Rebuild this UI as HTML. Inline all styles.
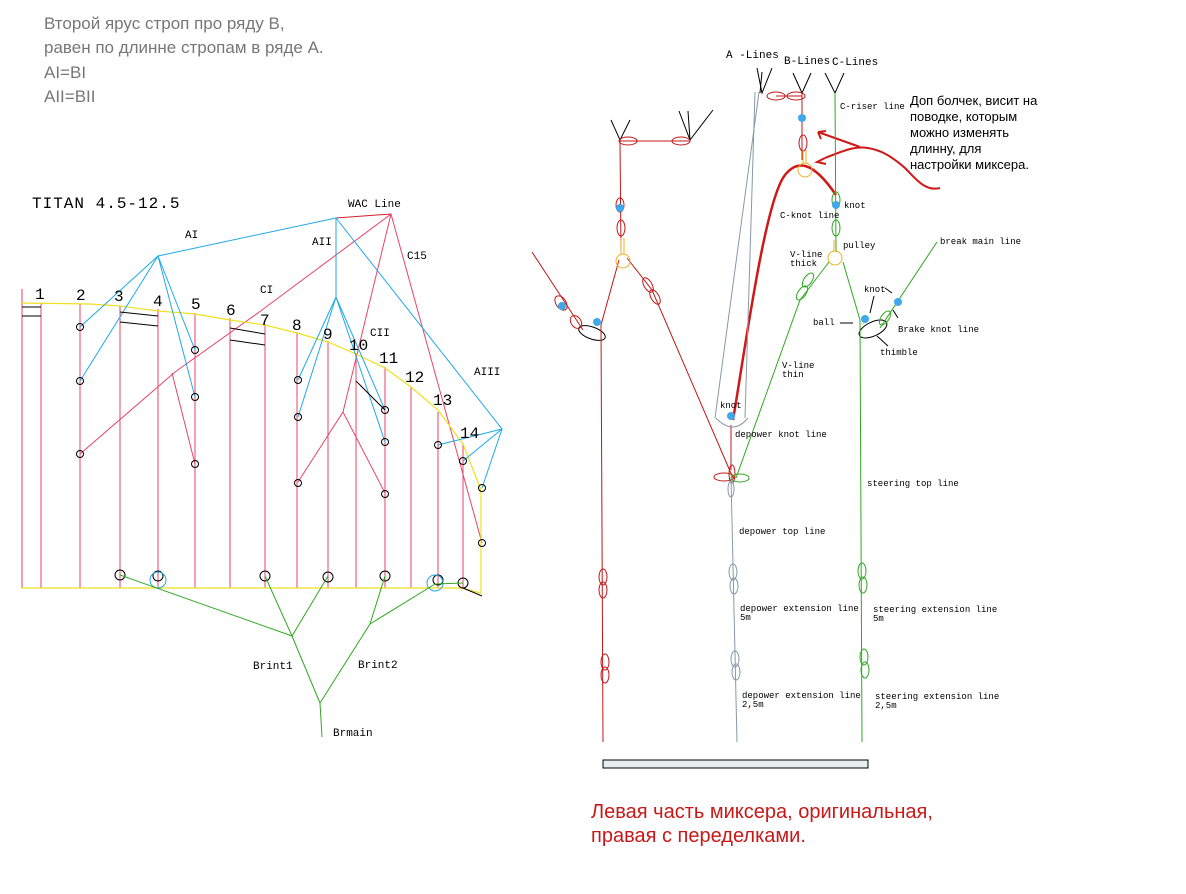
<!DOCTYPE html>
<html><head><meta charset="utf-8"><style>
html,body{margin:0;padding:0;background:#fff;width:1186px;height:894px;overflow:hidden}
svg{display:block}
.t{font-family:"Liberation Sans","Noto Sans CJK SC",sans-serif}
.m{font-family:"Liberation Mono",monospace}
</style></head><body>
<svg width="1186" height="894" viewBox="0 0 1186 894" xmlns="http://www.w3.org/2000/svg">
<g class="t" fill="#777" font-size="17">
<text x="44" y="29">Второй ярус строп про ряду В,</text>
<text x="44" y="53">равен по длинне стропам в ряде А.</text>
<text x="44" y="78">AI=BI</text>
<text x="44" y="102">AII=BII</text>
</g>
<text x="32" y="208" class="m" font-size="16" letter-spacing="1">TITAN  4.5-12.5</text>
<!-- LEFT DIAGRAM -->
<g stroke="#e8436a" stroke-width="1" fill="none">
<line x1="22" y1="289" x2="22" y2="588"/><line x1="41" y1="303" x2="41" y2="588"/>
<line x1="80" y1="304" x2="80" y2="588"/><line x1="120" y1="306" x2="120" y2="588"/>
<line x1="158" y1="309" x2="158" y2="588"/><line x1="195" y1="313" x2="195" y2="588"/>
<line x1="230" y1="318" x2="230" y2="588"/><line x1="265" y1="324" x2="265" y2="588"/>
<line x1="297" y1="332" x2="297" y2="588"/><line x1="328" y1="341" x2="328" y2="588"/>
<line x1="356" y1="353" x2="356" y2="588"/><line x1="385" y1="367" x2="385" y2="588"/>
<line x1="411" y1="387" x2="411" y2="588"/><line x1="438" y1="412" x2="438" y2="588"/>
<line x1="463" y1="443" x2="463" y2="588"/>
<polyline points="80,454 175,372 262,310 391,214"/>
<polyline points="172,373 195,464"/>
<polyline points="391,214 343,412 298,482"/>
<polyline points="343,412 385,493"/>
<polyline points="391,214 482,543"/>
<line x1="336" y1="218" x2="391" y2="214" stroke="#d02030"/>
</g>
<g stroke="#f0e020" stroke-width="1.2" fill="none">
<polyline points="22,303 90,304 120,306 158,311 195,314 230,320 265,325 297,333 328,342 356,354 385,368 411,387 438,410 463,444 481,490 481,593"/>
<line x1="22" y1="588" x2="440" y2="588"/>
<polyline points="440,588 460,588 481,593"/>
</g>
<g stroke="#20a8e8" stroke-width="1" fill="none">
<polyline points="80,327 158,256 336,218 336,297"/>
<polyline points="80,381 158,256 195,397"/>
<polyline points="158,256 195,350"/>
<polyline points="298,380 336,297 298,417"/>
<polyline points="336,297 385,410"/>
<polyline points="336,297 385,442"/>
<polyline points="336,218 502,429 482,488"/>
<polyline points="438,445 502,429 463,461"/>
</g>
<g stroke="#000" stroke-width="1" fill="none">
<line x1="22" y1="307" x2="41" y2="307"/><line x1="22" y1="316" x2="41" y2="316"/>
<line x1="120" y1="312" x2="158" y2="316"/><line x1="120" y1="322" x2="158" y2="326"/>
<line x1="230" y1="328" x2="265" y2="334"/><line x1="230" y1="340" x2="265" y2="345"/>
<line x1="356" y1="381" x2="385" y2="410"/>
<line x1="463" y1="588" x2="482" y2="596"/>
<circle cx="80" cy="327" r="3.5"/><circle cx="80" cy="381" r="3.5"/><circle cx="80" cy="454" r="3.5"/>
<circle cx="195" cy="350" r="3.5"/><circle cx="195" cy="397" r="3.5"/><circle cx="195" cy="464" r="3.5"/>
<circle cx="298" cy="380" r="3.5"/><circle cx="298" cy="417" r="3.5"/><circle cx="298" cy="483" r="3.5"/>
<circle cx="385" cy="410" r="3.5"/><circle cx="385" cy="442" r="3.5"/><circle cx="385" cy="494" r="3.5"/>
<circle cx="438" cy="445" r="3.5"/><circle cx="463" cy="461" r="3.5"/><circle cx="482" cy="488" r="3.5"/><circle cx="482" cy="543" r="3.5"/>
<circle cx="120" cy="575" r="5"/><circle cx="158" cy="576" r="5"/><circle cx="265" cy="576" r="5"/>
<circle cx="328" cy="577" r="5"/><circle cx="385" cy="576" r="5"/><circle cx="438" cy="580" r="5"/><circle cx="463" cy="583" r="5"/>
</g>
<circle cx="158" cy="580" r="8" stroke="#20a8e8" fill="none"/>
<circle cx="435" cy="583" r="8" stroke="#20a8e8" fill="none"/>
<g stroke="#30a820" stroke-width="1" fill="none">
<polyline points="120,575 292,636 265,576"/><line x1="292" y1="636" x2="328" y2="576"/>
<polyline points="292,636 320,703 322,737"/>
<polyline points="385,576 370,624 320,703"/><line x1="370" y1="624" x2="435" y2="584"/>
<line x1="435" y1="584" x2="463" y2="583"/>
</g>
<g class="m" font-size="16" fill="#000">
<text x="35" y="299">1</text><text x="76" y="300">2</text><text x="114" y="301">3</text><text x="153" y="306">4</text>
<text x="191" y="309">5</text><text x="226" y="315">6</text><text x="260" y="325">7</text><text x="292" y="330">8</text>
<text x="323" y="339">9</text><text x="349" y="350">10</text><text x="379" y="363">11</text><text x="405" y="382">12</text>
<text x="433" y="405">13</text><text x="460" y="438">14</text>
</g>
<g class="m" font-size="11" fill="#000">
<text x="185" y="238">AI</text><text x="312" y="245">AII</text><text x="260" y="293">CI</text><text x="370" y="336">CII</text>
<text x="407" y="259">C15</text><text x="474" y="375">AIII</text><text x="348" y="207">WAC Line</text>
<text x="253" y="669">Brint1</text><text x="358" y="668">Brint2</text><text x="333" y="736">Brmain</text>
</g>
<!-- RIGHT DIAGRAM -->
<g stroke="#000" stroke-width="1" fill="none">
<polyline points="611,120 620,140 630,120"/><polyline points="679,111 690,140 713,110"/><line x1="688" y1="111" x2="690" y2="140"/>
<polyline points="757,68 762,93 772,68"/><line x1="762" y1="72" x2="760" y2="93"/>
<polyline points="793,73 802,93 811,73"/><polyline points="825,73 835,93 844,73"/>
<ellipse cx="592" cy="333" rx="14" ry="6" transform="rotate(20 592 333)"/>
<ellipse cx="873" cy="329" rx="15" ry="7" transform="rotate(-25 873 329)"/>
<line x1="877" y1="336" x2="888" y2="346"/><line x1="874" y1="296" x2="870" y2="313"/><line x1="892" y1="293" x2="885" y2="288"/><line x1="893" y1="310" x2="898" y2="318"/><line x1="853" y1="323" x2="840" y2="323"/>
</g>
<g stroke="#c01818" stroke-width="1" fill="none">
<line x1="620" y1="141" x2="690" y2="141"/>
<ellipse cx="628" cy="141" rx="9" ry="4"/><ellipse cx="681" cy="141" rx="9" ry="4"/>
<line x1="620" y1="141" x2="621" y2="252"/>
<ellipse cx="621" cy="228" rx="4" ry="8"/><ellipse cx="620" cy="205" rx="4" ry="7"/>
<polyline points="619,260 601,325 603,742"/>
<polyline points="627,258 652,290 733,478"/>
<ellipse cx="648" cy="285" rx="4" ry="8" transform="rotate(-30 648 285)"/><ellipse cx="655" cy="297" rx="4" ry="8" transform="rotate(-30 655 297)"/>
<line x1="532" y1="252" x2="583" y2="330"/>
<ellipse cx="561" cy="303" rx="5" ry="8" transform="rotate(-35 561 303)"/><ellipse cx="576" cy="322" rx="5" ry="7" transform="rotate(-35 576 322)"/>
<ellipse cx="603" cy="577" rx="4" ry="8"/><ellipse cx="603" cy="590" rx="4" ry="8"/>
<ellipse cx="605" cy="662" rx="4" ry="8"/><ellipse cx="605" cy="675" rx="4" ry="8"/>
<line x1="776" y1="96" x2="802" y2="96"/><ellipse cx="776" cy="96" rx="9" ry="4"/><ellipse cx="796" cy="96" rx="9" ry="4"/>
<line x1="802" y1="93" x2="802" y2="160"/><ellipse cx="803" cy="143" rx="4" ry="8"/>
<line x1="731" y1="425" x2="731" y2="470"/>
<ellipse cx="724" cy="477" rx="10" ry="4"/><ellipse cx="732" cy="474" rx="3" ry="9"/>
</g>
<path d="M733,420 C745,350 765,200 785,175 C797,160 812,160 836,195" stroke="#d01818" stroke-width="2.5" fill="none"/>
<path d="M940,188 C925,192 915,178 905,168 C890,155 880,150 868,148 C855,146 845,150 825,158" stroke="#d01818" stroke-width="2" fill="none"/>
<path d="M860,147 L818,132 M818,132 l8,-1 M818,132 l3,7 M825,158 l-8,4 l9,2" stroke="#d01818" stroke-width="2" fill="none"/>
<g stroke="#8898a8" stroke-width="1" fill="none">
<line x1="759" y1="92" x2="715" y2="418"/><line x1="755" y1="92" x2="745" y2="418"/>
<path d="M716,418 Q733,436 748,418"/>
<line x1="731" y1="478" x2="737" y2="742"/>
<ellipse cx="731" cy="489" rx="3" ry="8"/>
<ellipse cx="733" cy="572" rx="4" ry="8"/><ellipse cx="734" cy="586" rx="4" ry="8"/>
<ellipse cx="735" cy="659" rx="4" ry="8"/><ellipse cx="736" cy="672" rx="4" ry="8"/>
</g>
<g stroke="#30a820" stroke-width="1" fill="none">
<line x1="835" y1="93" x2="836" y2="252"/>
<ellipse cx="836" cy="200" rx="4" ry="8"/><ellipse cx="836" cy="228" rx="4" ry="8"/>
<polyline points="843,262 860,320 862,742"/>
<polyline points="829,262 800,300 736,478"/>
<ellipse cx="808" cy="280" rx="4" ry="8" transform="rotate(35 808 280)"/><ellipse cx="802" cy="293" rx="4" ry="8" transform="rotate(35 802 293)"/>
<ellipse cx="740" cy="478" rx="9" ry="4"/>
<line x1="937" y1="242" x2="880" y2="328"/>
<ellipse cx="885" cy="318" rx="4" ry="8" transform="rotate(35 885 318)"/>
<ellipse cx="862" cy="571" rx="4" ry="8"/><ellipse cx="863" cy="585" rx="4" ry="8"/>
<ellipse cx="864" cy="657" rx="4" ry="8"/><ellipse cx="865" cy="670" rx="4" ry="8"/>
</g>
<g stroke="#f0b020" stroke-width="1" fill="none">
<circle cx="623" cy="261" r="7"/><line x1="621" y1="238" x2="621" y2="254"/><line x1="624" y1="238" x2="624" y2="254"/>
<circle cx="805" cy="170" r="7"/><line x1="803" y1="150" x2="803" y2="163"/><line x1="806" y1="150" x2="806" y2="163"/>
<circle cx="835" cy="258" r="7"/><line x1="834" y1="240" x2="834" y2="251"/>
</g>
<g fill="#40a8e8">
<circle cx="620" cy="208" r="4"/><circle cx="802" cy="118" r="4"/><circle cx="836" cy="205" r="4"/>
<circle cx="731" cy="416" r="4"/><circle cx="562" cy="306" r="4"/><circle cx="597" cy="322" r="4"/>
<circle cx="865" cy="319" r="4"/><circle cx="898" cy="302" r="4"/>
</g>
<rect x="603" y="760" width="265" height="8" fill="#e8eef0" stroke="#000" stroke-width="1"/>
<g class="m" font-size="9" fill="#000">
<text x="726" y="58" font-size="11">A -Lines</text><text x="784" y="64" font-size="11">B-Lines</text><text x="832" y="65" font-size="11">C-Lines</text>
<text x="840" y="109">C-riser line</text><text x="844" y="208">knot</text><text x="780" y="218">C-knot line</text>
<text x="843" y="248">pulley</text><text x="790" y="257">V-line</text><text x="790" y="266">thick</text>
<text x="940" y="244">break main line</text><text x="864" y="292">knot</text><text x="813" y="325">ball</text>
<text x="898" y="332">Brake knot line</text><text x="880" y="355">thimble</text>
<text x="782" y="368">V-line</text><text x="782" y="377">thin</text><text x="720" y="408">knot</text>
<text x="735" y="437">depower knot line</text><text x="867" y="486">steering top line</text>
<text x="739" y="534">depower top line</text>
<text x="740" y="611">depower extension line</text><text x="740" y="620">5m</text>
<text x="873" y="612">steering extension line</text><text x="873" y="621">5m</text>
<text x="742" y="698">depower extension line</text><text x="742" y="707">2,5m</text>
<text x="875" y="699">steering extension line</text><text x="875" y="708">2,5m</text>
</g>
<g class="t" font-size="13" fill="#000">
<text x="910" y="105">Доп болчек, висит на</text><text x="910" y="121">поводке,  которым</text>
<text x="910" y="137">можно изменять</text><text x="910" y="153">длинну, для</text><text x="910" y="169">настройки миксера.</text>
</g>
<g class="t" font-size="20" fill="#c81818">
<text x="591" y="818">Левая часть миксера, оригинальная,</text>
<text x="591" y="842">правая с переделками.</text>
</g>
</svg>
</body></html>
